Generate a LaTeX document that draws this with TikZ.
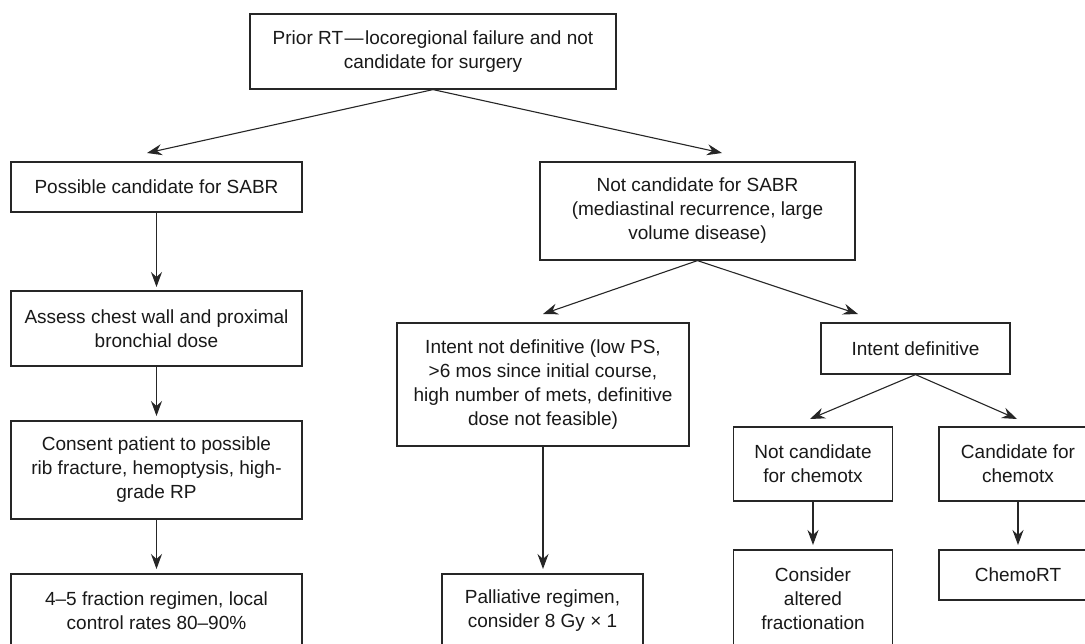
\documentclass[tikz,border=0pt]{standalone}
\usepackage{fontspec}
\setmainfont{Liberation Sans}
\usetikzlibrary{arrows.meta}
\tikzset{
  box/.style={draw=black!85, line width=1.2pt, align=center, inner sep=0pt,
    text=black!90, font=\fontsize{19}{24}\selectfont, anchor=center},
  arr/.style={draw=black!85, line width=1.1pt, -{Stealth[length=15pt,width=11pt,inset=5pt]}}
}
\begin{document}
\begin{tikzpicture}[x=1pt,y=-1pt]
\useasboundingbox (0,0) rectangle (1085,643);
\fill[white] (0,0) rectangle (1085,643);
\clip (0,0) rectangle (1085,643);
% boxes
\node[box, minimum width=366pt, minimum height=75pt] (top) at (433,51.5)
  {Prior RT\hspace{1.5pt}—\hspace{1.5pt}locoregional failure and not\\candidate for surgery};
\node[box, minimum width=291pt, minimum height=50pt] (possible) at (156.5,187)
  {Possible candidate for SABR};
\node[box, minimum width=291pt, minimum height=75pt] (assess) at (156.5,328.5)
  {Assess chest wall and proximal\\bronchial dose};
\node[box, minimum width=291pt, minimum height=98pt] (consent) at (156.5,470)
  {Consent patient to possible\\rib fracture, hemoptysis, high-\\grade RP};
\node[box, minimum width=291pt, minimum height=74pt] (final) at (156.5,611)
  {4–5 fraction regimen, local\\control rates 80–90\%};
\node[box, minimum width=315pt, minimum height=98pt] (notsabr) at (697.5,211)
  {Not candidate for SABR\\(mediastinal recurrence, large\\volume disease)};
\node[box, minimum width=292pt, minimum height=123pt] (intentnot) at (543,384.5)
  {Intent not definitive (low PS,\\>6 mos since initial course,\\high number of mets, definitive\\dose not feasible)};
\node[box, minimum width=201pt, minimum height=74pt] (pall) at (542.5,611)
  {Palliative regimen,\\consider 8 Gy × 1};
\node[box, minimum width=189pt, minimum height=51pt] (intentdef) at (915.5,348.5)
  {Intent definitive};
\node[box, minimum width=159pt, minimum height=74pt] (notchemo) at (813,464)
  {Not candidate\\for chemotx};
\node[box, minimum width=158pt, minimum height=74pt] (candchemo) at (1018,464)
  {Candidate for\\chemotx};
\node[box, minimum width=159pt, minimum height=98pt] (consider) at (813,599)
  {Consider\\altered\\fractionation};
\node[box, minimum width=158pt, minimum height=50pt] (chemort) at (1018,575)
  {ChemoRT};
% arrow tips
\coordinate (a1) at (147,153);
\coordinate (a2) at (722,153);
\coordinate (a3) at (156.5,287);
\coordinate (a4) at (156.5,416);
\coordinate (a5) at (156.5,569);
\coordinate (a6) at (543,314);
\coordinate (a7) at (858,314);
\coordinate (a8) at (543,569);
\coordinate (a9) at (810,419);
\coordinate (a10) at (1017,419);
\coordinate (a11) at (813,545);
\coordinate (a12) at (1018,545);
% connectors
\draw[arr] (top.south) -- (a1);
\draw[arr] (top.south) -- (a2);
\draw[arr] (possible.south) -- (a3);
\draw[arr] (assess.south) -- (a4);
\draw[arr] (consent.south) -- (a5);
\draw[arr] (notsabr.south) -- (a6);
\draw[arr] (notsabr.south) -- (a7);
\draw[arr] (intentnot.south) -- (a8);
\draw[arr] (intentdef.south) -- (a9);
\draw[arr] (intentdef.south) -- (a10);
\draw[arr] (notchemo.south) -- (a11);
\draw[arr] (candchemo.south) -- (a12);
\end{tikzpicture}
\end{document}
